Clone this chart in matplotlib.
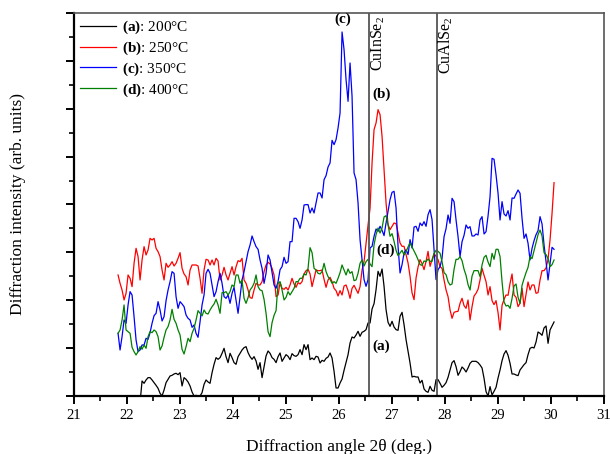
import numpy as np
import matplotlib
matplotlib.use('Agg')
import matplotlib.pyplot as plt
import matplotlib.ticker as mticker

plt.rcParams['font.family'] = ['Liberation Serif', 'DejaVu Serif']
plt.rcParams['mathtext.fontset'] = 'custom'
plt.rcParams['mathtext.rm'] = 'Liberation Serif'
plt.rcParams['mathtext.it'] = 'Liberation Serif:italic'
plt.rcParams['mathtext.bf'] = 'Liberation Serif:bold'

# scan grid (deg), 219 steps
two_theta = np.linspace(21.84, 30.06, 219)

# intensities (arb. units)
I_200 = [-30, -30, -30, -30, -30, -30, -30, -30, -30, -30, -30, -20,
         45, 38, 48, 55, 55, 48, 40, 32, 23, 8,
         0, 18, 40, 50, 60, 62, 66, 68, 64, 70,
         30, 55, 50, 42, 30, 12, 0, 2, 0, 0,
         10, 35, 48, 42, 38, 70, 95, 115, 110, 115,
         128, 143, 118, 100, 128, 115, 100, 95, 118, 128,
         138, 145, 148, 130, 118, 110, 118, 105, 80, 100,
         55, 88, 120, 135, 128, 115, 110, 100, 118, 129,
         104, 114, 124, 119, 109, 127, 121, 119, 124, 139,
         124, 154, 139, 154, 109, 114, 109, 119, 117, 99,
         107, 104, 113, 117, 129, 114, 74, 24, 24, 39,
         51, 77, 101, 124, 159, 177, 174, 183, 194, 179,
         191, 194, 199, 219, 219, 261, 277, 319, 374, 359,
         381, 329, 259, 221, 209, 224, 207, 199, 197, 239,
         251, 214, 169, 134, 99, 57, 59, 57, 57, 39,
         47, 21, 14, 11, 29, 17, 14, 49, 49,
         38, 26, 32, 40, 56, 78, 100, 106, 88, 62,
         73, 87, 81, 72, 84, 98, 104, 104, 104, 100,
         93, 84, 53, 13, 0, 28, 3, 14, 26, 54,
         78, 106, 126, 136, 122, 98, 66, 66, 63, 61,
         78, 86, 94, 100, 124, 143, 146, 144, 162, 192,
         188, 182, 204, 210, 158, 198, 210, 222]
I_250 = [363, 338, 318, 288, 308, 363, 353, 328, 398, 443,
         418, 348, 408, 448, 423, 438, 473, 468, 473, 443,
         433, 418, 378, 348, 398, 386, 393, 403, 390, 398,
         413, 430, 383, 366, 358, 333, 378, 393, 393, 393,
         390, 353, 308, 378, 410, 408, 393, 408, 393, 413,
         405, 348, 363, 386, 363, 348, 368, 388, 363, 388,
         406, 403, 413, 348, 338, 318, 295, 293, 318, 338,
         333, 333, 343, 373, 393, 401, 396, 383, 363, 298,
         303, 340,
         323, 320, 326, 318, 333, 353, 336, 326, 340, 336,
         343, 366, 376, 380, 366, 328, 353, 378, 376, 376,
         378, 350, 326, 348, 356, 343, 323, 316, 300, 316,
         303, 330, 333, 316, 293, 323, 332, 320, 308, 328,
         378, 403, 458, 513, 563, 699, 799, 819, 859, 844,
         779, 679, 579, 514, 499, 509, 519, 517, 489, 459,
         449, 449, 424, 399, 359, 309, 289, 354, 387, 409,
         397, 379, 404, 434, 389, 409, 427, 419, 409,
         388, 383, 348, 318, 298, 258, 233, 251, 253, 254,
         278, 293, 271, 263, 288, 228, 268, 300, 308, 320,
         348, 383, 362, 343, 303, 328, 286, 274, 286, 250,
         198, 272, 290, 303, 302, 338, 366, 303, 296, 268,
         278, 323, 268, 306, 342, 318, 333, 333, 308, 310,
         348, 376, 376, 384, 410, 468, 548, 640]
I_350 = [188, 138, 178, 228, 218, 273, 313, 303, 238, 168,
         133, 138, 153, 153, 173, 170, 190, 218, 241, 248,
         283, 258, 225, 238, 286, 318, 343, 373, 368, 298,
         263, 283, 276, 268, 243, 233, 228, 206, 213, 188,
         176, 223, 273, 303, 368, 380, 368, 333, 298, 313,
         343, 368, 338, 298, 293, 303, 278, 308, 326, 288,
         248, 298, 348, 373, 403, 433, 453, 480, 463, 448,
         440, 408, 383, 338, 368, 423, 408, 370, 333, 323,
         343, 379,
         388, 416, 398, 403, 463, 463, 533, 533, 523, 503,
         528, 573, 574, 574, 549, 564, 549, 579, 609, 609,
         594, 649, 661, 687, 699, 767, 754, 769, 804, 849,
         1092, 1039, 949, 884, 999, 899, 669, 649, 579, 469,
         409, 349, 329, 349, 444, 449, 479, 501, 494, 509,
         497, 481, 519, 554, 589, 611, 614, 564, 449, 369,
         394, 429, 439, 424, 469, 444, 507, 509, 494, 519,
         511, 523, 509, 544, 559, 529, 439, 349, 379,
         388, 413, 478, 502, 543, 518, 593, 583, 528, 478,
         418, 463, 482, 513, 503, 508, 480, 480, 486, 483,
         528, 538, 486, 493, 540, 598, 713, 710, 663, 608,
         528, 583, 546, 540, 556, 528, 594, 593, 606, 618,
         608, 533, 473, 486, 458, 408, 443, 466, 484, 496,
         538, 516, 453, 403, 348, 398, 446, 440]
I_400 = [188, 198, 228, 273, 198, 193, 188, 146, 133, 123,
         133, 148, 140, 153, 143, 178, 193, 190, 198, 193,
         178, 138, 150, 176, 198, 208, 228, 260, 230, 218,
         198, 183, 140, 126, 148, 173, 163, 188, 203, 228,
         256, 248, 240, 258, 248, 246, 258, 268, 276, 290,
         273, 248, 310, 310, 313, 303, 313, 333, 328, 363,
         363, 338, 348, 293, 278, 295, 318, 326, 338, 363,
         328, 318, 316, 290, 248, 193, 178, 220, 242, 256,
         338, 343,
         318, 288, 296, 313, 303, 313, 323, 343, 343, 353,
         353, 366, 363, 383, 445, 430, 383, 378, 368, 366,
         373, 398, 373, 358, 350, 338, 343, 338, 353, 370,
         393, 378, 363, 381, 368, 373, 346, 348, 368, 398,
         408, 390, 403, 410, 396, 388, 454, 484, 504, 489,
         504, 537, 541, 514, 479, 487, 464, 437, 421, 429,
         437, 423, 433, 447, 459, 447, 435, 423, 409, 394,
         392, 405, 403, 411, 404, 404, 427, 437, 434,
         428, 403, 370, 364, 343, 333, 336, 380, 410, 410,
         418, 406, 380, 362, 334, 318, 360, 376, 376, 376,
         358, 393, 416, 422, 402, 388, 428, 410, 440, 440,
         418, 343, 282, 270, 272, 263, 293, 330, 336, 296,
         278, 332, 352, 370, 386, 418, 412, 436, 460, 484,
         498, 480, 430, 424, 412, 388, 394, 408]

labels = [r'$\mathbf{(a)}$: 200°C', r'$\mathbf{(b)}$: 250°C',
          r'$\mathbf{(c)}$: 350°C', r'$\mathbf{(d)}$: 400°C']
colors = ['black', 'red', 'blue', 'green']

ref_pos = [26.58, 27.86]
ref_names = [r'CuInSe$_2$', r'CuAlSe$_2$']

fig = plt.figure(figsize=(6.1, 4.54), dpi=100)
ax = fig.add_axes([0.1205, 0.1278, 0.8695, 0.8436])

for I, lab, c in zip([I_200, I_250, I_350, I_400], labels, colors):
    ax.plot(two_theta, I, color=c, lw=0.9, label=lab)

for xp, name in zip(ref_pos, ref_names):
    ax.axvline(xp, color='#555555', lw=1.3)
    ax.text(xp + 0.16, 1140, name, rotation=90, ha='center', va='top', fontsize=11.5)

# peak labels
ax.text(26.08, 1131, '(c)', ha='center', va='center', fontsize=11, fontweight='bold')
ax.text(26.80, 906, '(b)', ha='center', va='center', fontsize=11, fontweight='bold')
ax.text(26.89, 438, '(d)', ha='center', va='center', fontsize=11, fontweight='bold')
ax.text(26.80, 150, '(a)', ha='center', va='center', fontsize=11, fontweight='bold')

ax.set_xlim(21, 31)
ax.set_ylim(0, 1149)
ax.xaxis.set_major_locator(mticker.MultipleLocator(1))
ax.xaxis.set_minor_locator(mticker.MultipleLocator(0.5))
ax.yaxis.set_major_locator(mticker.MultipleLocator(1149 / 8))
ax.yaxis.set_minor_locator(mticker.MultipleLocator(1149 / 16))
ax.tick_params(which='major', direction='out', length=6, width=1.4, labelsize=10.5)
ax.tick_params(which='minor', direction='out', length=3.5, width=1.2)
ax.tick_params(axis='y', which='both', labelleft=False)

ax.spines['left'].set_linewidth(1.6)
ax.spines['bottom'].set_linewidth(1.6)
for s in ['top', 'right']:
    ax.spines[s].set_color('#555555')
    ax.spines[s].set_linewidth(1.2)

ax.set_xlabel('Diffraction angle 2θ (deg.)', fontsize=12.5, labelpad=12)
ax.set_ylabel('Diffraction intensity (arb. units)', fontsize=12.5, labelpad=28)

ax.legend(loc='upper left', frameon=False, fontsize=11, handlelength=2.4,
          handletextpad=0.35, labelspacing=0.22, borderaxespad=0.2, borderpad=0.2)

plt.savefig('out.png', dpi=100)
